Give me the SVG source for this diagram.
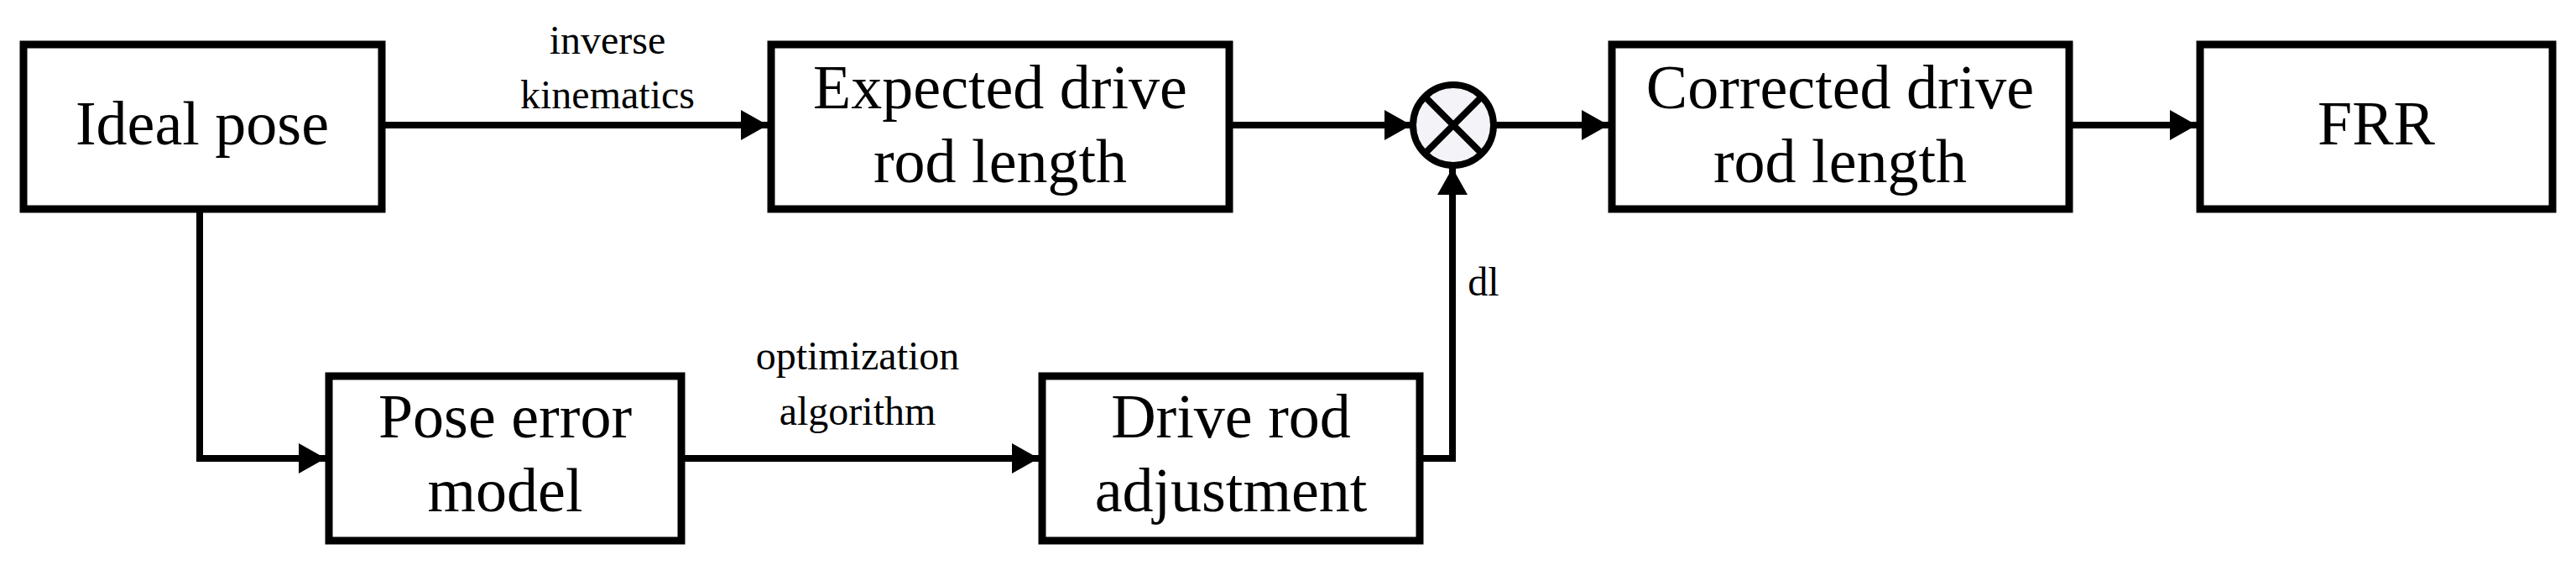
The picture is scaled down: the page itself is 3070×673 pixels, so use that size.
<svg xmlns="http://www.w3.org/2000/svg" width="3070" height="673" viewBox="0 0 3070 673">
<style>
.b{fill:#fff;stroke:#000;stroke-width:9}
.t{font-family:"Liberation Serif",serif;font-size:74px;text-anchor:middle;fill:#000}
.s{font-family:"Liberation Serif",serif;font-size:48px;text-anchor:middle;fill:#000}
.c{fill:none;stroke:#000;stroke-width:8}
</style>
<defs><marker id="a" markerUnits="userSpaceOnUse" markerWidth="32" markerHeight="36" refX="32" refY="18" orient="auto"><path d="M0,0L32,18L0,36z" fill="#000"/></marker></defs>
<g id="connectors">
<path class="c" d="M455,149H915" marker-end="url(#a)"/>
<path class="c" d="M1465,149H1682" marker-end="url(#a)"/>
<path class="c" d="M1782,149H1917" marker-end="url(#a)"/>
<path class="c" d="M2466,149H2618" marker-end="url(#a)"/>
<path class="c" d="M238,249V546H388" marker-end="url(#a)"/>
<path class="c" d="M812,546H1238" marker-end="url(#a)"/>
<path class="c" d="M1692,546H1731V200" marker-end="url(#a)"/>
<text class="s" x="724" y="64">inverse</text>
<text class="s" x="724" y="129">kinematics</text>
<text class="s" x="1022" y="440">optimization</text>
<text class="s" x="1022" y="506">algorithm</text>
<text class="s" x="1768" y="352">dl</text>
</g>
<g id="ideal"><rect class="b" x="28" y="53" width="427" height="196"/><text class="t" x="241" y="172">Ideal pose</text></g>
<g id="expected"><rect class="b" x="919" y="53" width="546" height="196"/><text class="t" x="1192" y="129">Expected drive</text><text class="t" x="1192" y="217">rod length</text></g>
<g id="sum"><circle cx="1732" cy="149" r="48" fill="#f4f4f8" stroke="#000" stroke-width="8"/><path d="M1698,115L1766,183M1766,115L1698,183" stroke="#000" stroke-width="8"/></g>
<g id="corrected"><rect class="b" x="1921" y="53" width="545" height="196"/><text class="t" x="2193" y="129">Corrected drive</text><text class="t" x="2193" y="217">rod length</text></g>
<g id="frr"><rect class="b" x="2622" y="53" width="420" height="196"/><text class="t" x="2832" y="172">FRR</text></g>
<g id="poseerr"><rect class="b" x="392" y="448" width="420" height="196"/><text class="t" x="602" y="521">Pose error</text><text class="t" x="602" y="609">model</text></g>
<g id="adjust"><rect class="b" x="1242" y="448" width="450" height="196"/><text class="t" x="1467" y="521">Drive rod</text><text class="t" x="1467" y="609">adjustment</text></g>
</svg>
